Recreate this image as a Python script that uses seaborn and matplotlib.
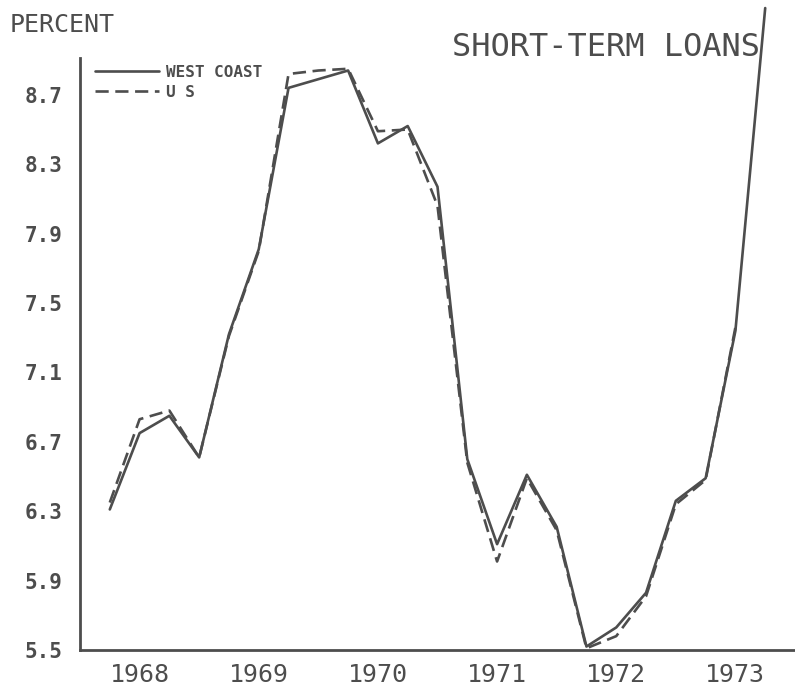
import matplotlib
matplotlib.use("Agg")
import matplotlib.pyplot as plt
from matplotlib.ticker import FixedLocator, FuncFormatter, NullFormatter
import numpy as np
import pandas as pd
import seaborn as sns

# Quarterly average interest rates on short-term business loans (percent)
quarters = [
    "1968Q1", "1968Q2", "1968Q3", "1968Q4",
    "1969Q1", "1969Q2", "1969Q3", "1969Q4",
    "1970Q1", "1970Q2", "1970Q3", "1970Q4",
    "1971Q1", "1971Q2", "1971Q3", "1971Q4",
    "1972Q1", "1972Q2", "1972Q3", "1972Q4",
    "1973Q1", "1973Q2", "1973Q3",
]
west_coast = [
    6.31, 6.75, 6.85, 6.61,
    7.32, 7.81, 8.74, 8.79,
    8.84, 8.42, 8.52, 8.17,
    6.60, 6.11, 6.51, 6.21,
    5.52, 5.63, 5.83, 6.36,
    6.49, 7.34, 9.20,
]
us_total = [
    6.35, 6.83, 6.88, 6.61,
    7.31, 7.80, 8.82, 8.84,
    8.85, 8.49, 8.50, 8.06,
    6.58, 6.01, 6.49, 6.19,
    5.51, 5.58, 5.81, 6.34,
    6.48, 7.36,
]
series_names = ["WEST COAST", "U S"]
year_labels = [1968, 1969, 1970, 1971, 1972, 1973]
y_ticks = [5.5, 5.9, 6.3, 6.7, 7.1, 7.5, 7.9, 8.3, 8.7]


def quarter_pos(q):
    # place each quarter at its end point on a continuous year scale
    year, qn = q.split("Q")
    return int(year) + int(qn) * 0.25


df = pd.concat([
    pd.DataFrame({"x": [quarter_pos(q) for q in quarters[:len(west_coast)]],
                  "rate": west_coast, "series": series_names[0]}),
    pd.DataFrame({"x": [quarter_pos(q) for q in quarters[:len(us_total)]],
                  "rate": us_total, "series": series_names[1]}),
], ignore_index=True)

sns.set_theme(style="white")
plt.rcParams["font.family"] = ["DejaVu Sans Mono", "DejaVu Sans"]

ink = "#4d4d4d"
W, H, DPI = 795, 688, 100
fig = plt.figure(figsize=(W / DPI, H / DPI), dpi=DPI)
ax = fig.add_axes([80 / W, 38 / H, 1 - 80 / W, 1 - 38 / H])

sns.lineplot(
    data=df, x="x", y="rate", style="series",
    style_order=series_names,
    dashes={series_names[0]: "", series_names[1]: (5, 2.5)},
    color=ink, linewidth=1.9, legend=False, ax=ax,
)

ax.set_xlim(1968.0, 1974.0)
ax.set_ylim(5.5, 5.5 + 650 / 173.5)
ax.set_xlabel("")
ax.set_ylabel("")

# axes frame: only left and bottom, left one stops below the title area
for side in ("top", "right"):
    ax.spines[side].set_visible(False)
for side in ("left", "bottom"):
    ax.spines[side].set_color(ink)
    ax.spines[side].set_linewidth(2.0)
ax.spines["left"].set_bounds(5.5, 8.91)

# y ticks
ax.yaxis.set_major_locator(FixedLocator(y_ticks))
ax.yaxis.set_major_formatter(FuncFormatter(lambda v, p: f"{v:.1f}"))
ax.tick_params(axis="y", which="major", direction="out", length=2.5,
               width=1.5, color=ink, labelcolor=ink, labelsize=15, pad=10)
for lbl in ax.get_yticklabels():
    lbl.set_fontweight("bold")

# x ticks: long marks at year boundaries, short marks every quarter,
# year names centred on mid-year
ax.xaxis.set_major_locator(FixedLocator(np.arange(1968, 1975)))
ax.xaxis.set_major_formatter(NullFormatter())
minor = [y + q * 0.25 for y in range(1968, 1974) for q in (1, 2, 3)]
ax.xaxis.set_minor_locator(FixedLocator(minor))
ax.xaxis.set_minor_formatter(FuncFormatter(
    lambda v, p: str(int(np.floor(v))) if abs(v % 1 - 0.5) < 1e-6 else ""))
ax.tick_params(axis="x", which="major", direction="inout", length=16,
               width=1.6, color=ink, labelbottom=False)
ax.tick_params(axis="x", which="minor", direction="inout", length=9,
               width=1.6, color=ink, labelcolor=ink, labelsize=18, pad=5)
ax.grid(False)
ax.set_facecolor("white")

# legend in the upper left corner
lines = ax.get_lines()
leg = ax.legend(
    lines[:2], series_names, loc="upper left",
    bbox_to_anchor=(95 / W, 1 - 65 / H), bbox_transform=fig.transFigure,
    frameon=False, borderpad=0, borderaxespad=0, handlelength=4.0,
    handletextpad=0.45, labelspacing=0.3,
    prop={"family": "DejaVu Sans Mono", "weight": "bold", "size": 11.5},
)
for t in leg.get_texts():
    t.set_color(ink)

fig.text(10 / W, 1 - 25 / H, "PERCENT", ha="left", va="center",
         fontsize=18, color=ink)
fig.text(452 / W, 1 - 47 / H, "SHORT-TERM LOANS", ha="left", va="center",
         fontsize=23, color=ink)

fig.savefig("out.png", dpi=DPI, facecolor="white")
